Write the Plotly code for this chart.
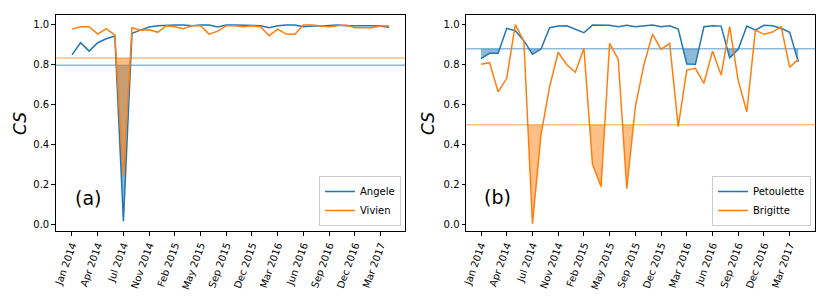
import plotly.graph_objects as go

# ---- data ----
tick_idx = [0, 3, 6, 9, 12, 15, 18, 21, 24, 27, 30, 33, 36]
tick_labels = ["Jan 2014", "Apr 2014", "Jul 2014", "Nov 2014", "Feb 2015", "May 2015",
               "Sep 2015", "Dec 2015", "Mar 2016", "Jun 2016", "Sep 2016", "Dec 2016", "Mar 2017"]

angele = [0.849, 0.910, 0.868, 0.910, 0.930, 0.943, 0.018, 0.957, 0.973, 0.988,
          0.995, 0.998, 0.998, 0.998, 0.995, 0.998, 0.998, 0.988, 0.998, 0.998,
          0.998, 0.998, 0.995, 0.985, 0.995, 0.998, 0.998, 0.990, 0.994, 0.994,
          0.995, 0.998, 0.995, 0.995, 0.998, 0.995, 0.994, 0.986]
vivien = [0.978, 0.990, 0.990, 0.953, 0.980, 0.948, 0.240, 0.985, 0.972, 0.975,
          0.962, 0.995, 0.990, 0.980, 0.995, 0.995, 0.953, 0.968, 0.995, 0.995,
          0.990, 0.995, 0.990, 0.945, 0.978, 0.953, 0.952, 0.998, 0.998, 0.994,
          0.990, 0.995, 0.998, 0.985, 0.985, 0.985, 0.994, 0.995]
petoulette = [0.830, 0.857, 0.857, 0.982, 0.970, 0.920, 0.852, 0.878, 0.985, 0.993,
              0.995, 0.978, 0.960, 0.998, 0.998, 0.997, 0.990, 0.997, 0.990, 0.993,
              0.998, 0.990, 0.995, 0.978, 0.803, 0.802, 0.990, 0.995, 0.993, 0.835,
              0.877, 0.993, 0.973, 0.997, 0.995, 0.982, 0.962, 0.815]
brigitte = [0.802, 0.810, 0.664, 0.732, 1.000, 0.918, 0.005, 0.450, 0.690, 0.862,
            0.800, 0.762, 0.882, 0.303, 0.190, 0.907, 0.827, 0.180, 0.590, 0.800,
            0.953, 0.877, 0.907, 0.490, 0.773, 0.782, 0.707, 0.868, 0.748, 0.990,
            0.720, 0.565, 0.973, 0.952, 0.963, 0.990, 0.787, 0.828]

thr_angele = 0.797
thr_vivien = 0.833
thr_petoulette = 0.880
thr_brigitte = 0.500

BLUE = "#1f77b4"
ORANGE = "#ff7f0e"
BLUE_A = "rgba(31,119,180,0.5)"
ORANGE_A = "rgba(255,127,14,0.5)"
FONT = "DejaVu Sans"


def below_fill(y, thr):
    xs, ys = [], []
    for i in range(len(y)):
        if i > 0:
            y0, y1 = y[i - 1], y[i]
            if (y0 - thr) * (y1 - thr) < 0:
                t = (thr - y0) / (y1 - y0)
                xs.append(i - 1 + t)
                ys.append(thr)
        xs.append(i)
        ys.append(min(y[i], thr))
    return xs, ys


fig = go.Figure()


def add_fill(y, thr, color, xa, ya):
    xs, ys = below_fill(y, thr)
    fig.add_trace(go.Scatter(x=xs, y=[thr] * len(xs), mode="lines", line=dict(width=0),
                             showlegend=False, hoverinfo="skip", xaxis=xa, yaxis=ya))
    fig.add_trace(go.Scatter(x=xs, y=ys, mode="lines", line=dict(width=0), fill="tonexty",
                             fillcolor=color, showlegend=False, hoverinfo="skip",
                             xaxis=xa, yaxis=ya))


add_fill(angele, thr_angele, BLUE_A, "x", "y")
add_fill(vivien, thr_vivien, ORANGE_A, "x", "y")
add_fill(petoulette, thr_petoulette, BLUE_A, "x2", "y2")
add_fill(brigitte, thr_brigitte, ORANGE_A, "x2", "y2")

idx = list(range(len(angele)))
fig.add_trace(go.Scatter(x=idx, y=angele, mode="lines", name="Angele",
                         line=dict(color=BLUE, width=1.5), xaxis="x", yaxis="y", legend="legend"))
fig.add_trace(go.Scatter(x=idx, y=vivien, mode="lines", name="Vivien",
                         line=dict(color=ORANGE, width=1.5), xaxis="x", yaxis="y", legend="legend"))
fig.add_trace(go.Scatter(x=idx, y=petoulette, mode="lines", name="Petoulette",
                         line=dict(color=BLUE, width=1.5), xaxis="x2", yaxis="y2", legend="legend2"))
fig.add_trace(go.Scatter(x=idx, y=brigitte, mode="lines", name="Brigitte",
                         line=dict(color=ORANGE, width=1.5), xaxis="x2", yaxis="y2", legend="legend2"))

shapes = []
for thr, col, xr, yr in [(thr_angele, BLUE_A, "x domain", "y"),
                         (thr_vivien, ORANGE_A, "x domain", "y"),
                         (thr_petoulette, BLUE_A, "x2 domain", "y2"),
                         (thr_brigitte, ORANGE_A, "x2 domain", "y2")]:
    shapes.append(dict(type="line", xref=xr, yref=yr, x0=0, x1=1, y0=thr, y1=thr,
                       line=dict(color=col, width=1.5), layer="below"))

W, H = 830, 302
ydom = [1 - 231 / H, 1 - 14.7 / H]

axis_common = dict(showline=True, linecolor="black", linewidth=1, mirror=True,
                   ticks="outside", ticklen=3.5, tickcolor="black", showgrid=False,
                   zeroline=False, automargin=False,
                   tickfont=dict(family=FONT, size=10, color="black"))

xcommon = dict(axis_common, tickmode="array", tickvals=tick_idx, ticktext=tick_labels,
               tickangle=-70)
ycommon = dict(axis_common, range=[-0.0315, 1.05], tickmode="array",
               tickvals=[0, 0.2, 0.4, 0.6, 0.8, 1.0],
               ticktext=["0.0", "0.2", "0.4", "0.6", "0.8", "1.0"])

legend_common = dict(y=1 - 226 / H, xanchor="right", yanchor="bottom", traceorder="normal",
                     bgcolor="rgba(255,255,255,0.8)", bordercolor="#cccccc", borderwidth=1,
                     font=dict(family=FONT, size=10, color="black"), itemwidth=30,
                     tracegroupgap=0)

ann_common = dict(xref="paper", yref="paper", showarrow=False, xanchor="center",
                  yanchor="middle")

fig.update_layout(
    width=W, height=H,
    margin=dict(l=0, r=0, t=0, b=0, autoexpand=False),
    paper_bgcolor="white", plot_bgcolor="white",
    font=dict(family=FONT, color="black"),
    showlegend=True,
    xaxis=dict(xcommon, domain=[55.7 / W, 405 / W], range=[-1.9, 38.85], anchor="y"),
    yaxis=dict(ycommon, domain=ydom, anchor="x"),
    xaxis2=dict(xcommon, domain=[466 / W, 815 / W], range=[-1.75, 38.95], anchor="y2"),
    yaxis2=dict(ycommon, domain=ydom, anchor="x2"),
    legend=dict(legend_common, x=401 / W),
    legend2=dict(legend_common, x=811 / W),
    shapes=shapes,
    annotations=[
        dict(ann_common, text="<i>CS</i>", x=20 / W, y=1 - 124 / H, textangle=-90,
             font=dict(family=FONT, size=17, color="black")),
        dict(ann_common, text="<i>CS</i>", x=428 / W, y=1 - 124 / H, textangle=-90,
             font=dict(family=FONT, size=17, color="black")),
        dict(ann_common, text="(a)", x=88 / W, y=1 - 198 / H,
             font=dict(family=FONT, size=19, color="black")),
        dict(ann_common, text="(b)", x=497 / W, y=1 - 197 / H,
             font=dict(family=FONT, size=19, color="black")),
    ],
)

fig.write_html("out.html", config={"displayModeBar": False},
               post_script="document.body.style.margin='0';document.body.style.overflow='hidden';")
